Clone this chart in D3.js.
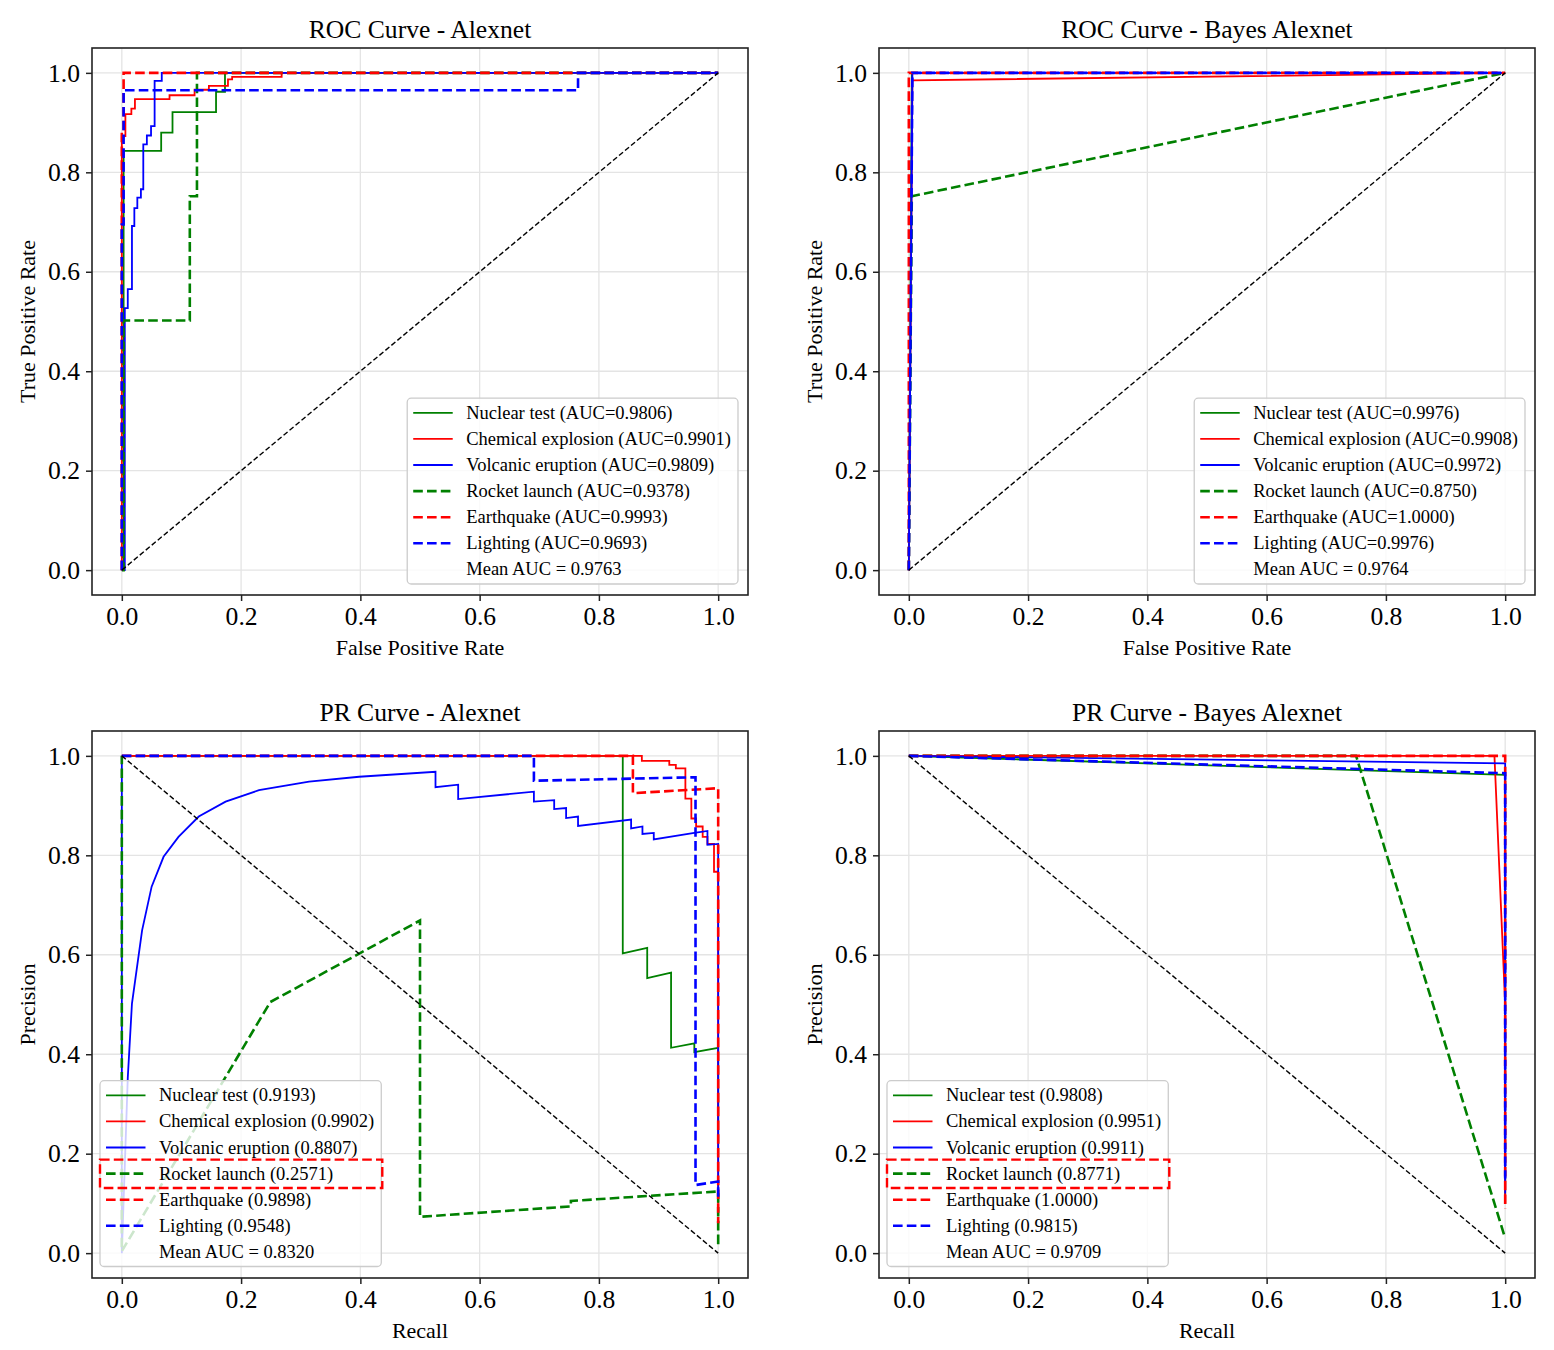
<!DOCTYPE html>
<html>
<head>
<meta charset="utf-8">
<script src="https://cdn.jsdelivr.net/npm/d3@7"></script>
<style>
  body { margin: 0; background: #fff; }
  svg { display: block; }
  text { font-family: "Liberation Serif", "Times New Roman", serif; fill: #000; }
</style>
</head>
<body>
<svg id="canvas" width="1554" height="1350"></svg>
<script>
// class names, shared by all four panels
let classNames = ["Nuclear test", "Chemical explosion", "Volcanic eruption", "Rocket launch", "Earthquake", "Lighting"];
let tickValues = [0, 0.2, 0.4, 0.6, 0.8, 1.0];

// AUC values shown in the legends
let rocAlexAuc = [0.9806, 0.9901, 0.9809, 0.9378, 0.9993, 0.9693];
let rocBayesAuc = [0.9976, 0.9908, 0.9972, 0.8750, 1.0000, 0.9976];
let prAlexAuc = [0.9193, 0.9902, 0.8807, 0.2571, 0.9898, 0.9548];
let prBayesAuc = [0.9808, 0.9951, 0.9911, 0.8771, 1.0000, 0.9815];
let meanAuc = [0.9763, 0.9764, 0.8320, 0.9709];

// reference diagonals
let rocDiagonal = [[0, 0], [1, 1]];
let prDiagonal = [[0, 1], [1, 0]];

// ROC - Alexnet  [fpr, tpr]
let rocAlexNuclear = [[0,0],[0.003,0],[0.003,0.843],[0.066,0.843],[0.066,0.88],[0.085,0.88],[0.085,0.921],[0.158,0.921],[0.158,0.962],[0.173,0.962],[0.173,1],[1,1]];
let rocAlexChemical = [[0,0],[0,0.873],[0.006,0.873],[0.006,0.917],[0.016,0.917],[0.016,0.928],[0.022,0.928],[0.022,0.947],[0.08,0.947],[0.08,0.955],[0.122,0.955],[0.122,0.966],[0.146,0.966],[0.146,0.974],[0.178,0.974],[0.178,0.987],[0.185,0.987],[0.185,0.992],[0.268,0.992],[0.268,1],[1,1]];
let rocAlexVolcanic = [[0,0],[0.005,0],[0.005,0.527],[0.01,0.527],[0.01,0.565],[0.017,0.565],[0.017,0.692],[0.021,0.692],[0.021,0.728],[0.026,0.728],[0.026,0.749],[0.032,0.749],[0.032,0.766],[0.036,0.766],[0.036,0.856],[0.042,0.856],[0.042,0.874],[0.049,0.874],[0.049,0.893],[0.055,0.893],[0.055,0.984],[0.067,0.984],[0.067,1],[1,1]];
let rocAlexRocket = [[0,0],[0.003,0],[0.003,0.502],[0.114,0.502],[0.114,0.752],[0.126,0.752],[0.126,1],[1,1]];
let rocAlexEarthquake = [[0,0],[0,0.88],[0.003,0.88],[0.003,1],[1,1]];
let rocAlexLighting = [[0,0],[0,0.695],[0.003,0.695],[0.003,0.965],[0.765,0.965],[0.765,1],[1,1]];

// ROC - Bayes Alexnet
let rocBayesNuclear = [[0,0],[0.005,1],[1,1]];
let rocBayesChemical = [[0,0],[0.006,0.985],[1,1]];
let rocBayesVolcanic = [[0,0],[0.006,1],[1,1]];
let rocBayesRocket = [[0,0],[0.005,0.752],[1,1]];
let rocBayesEarthquake = [[0,0],[0,1],[1,1]];
let rocBayesLighting = [[0,0],[0.006,1],[1,1]];

// PR - Alexnet  [recall, precision]
let prAlexNuclear = [[0,1],[0.84,1],[0.84,0.603],[0.881,0.614],[0.881,0.553],[0.921,0.564],[0.921,0.413],[0.96,0.422],[0.96,0.404],[1,0.413],[1,0.22]];
let prAlexChemical = [[0,1],[0.872,1],[0.872,0.99],[0.918,0.99],[0.918,0.982],[0.929,0.982],[0.929,0.975],[0.945,0.975],[0.945,0.914],[0.955,0.914],[0.955,0.874],[0.963,0.874],[0.963,0.858],[0.974,0.858],[0.974,0.837],[0.982,0.837],[0.982,0.823],[0.993,0.823],[0.993,0.767],[1,0.767],[1,0.1]];
let prAlexVolcanic = [[0,1],[0,0],[0.01,0.353],[0.017,0.502],[0.034,0.649],[0.05,0.737],[0.07,0.797],[0.095,0.837],[0.129,0.878],[0.174,0.908],[0.23,0.931],[0.314,0.948],[0.398,0.958],[0.526,0.968],[0.526,0.937],[0.564,0.942],[0.564,0.913],[0.691,0.928],[0.691,0.908],[0.725,0.911],[0.725,0.893],[0.745,0.895],[0.745,0.875],[0.765,0.878],[0.765,0.859],[0.854,0.872],[0.854,0.854],[0.873,0.858],[0.873,0.843],[0.892,0.845],[0.892,0.832],[0.96,0.845],[0.982,0.849],[0.982,0.821],[1,0.823],[1,0.13]];
let prAlexRocket = [[1,0.018],[1,0.124],[0.753,0.105],[0.753,0.094],[0.5,0.073],[0.5,0.669],[0.249,0.505],[0,0.004],[0,1]];
let prAlexEarthquake = [[0,1],[0.857,1],[0.857,0.925],[1,0.935],[1,0.06]];
let prAlexLighting = [[0,1],[0.691,1],[0.691,0.95],[0.962,0.957],[0.962,0.137],[1,0.144],[1,0.112]];

// PR - Bayes Alexnet
let prBayesNuclear = [[0,1],[1,0.962],[1,0.1]];
let prBayesChemical = [[0,1],[0.982,1],[1,0.5],[1,0.1]];
let prBayesVolcanic = [[0,1],[1,0.985],[1,0.12]];
let prBayesRocket = [[0,1],[0.75,1],[1,0.03]];
let prBayesEarthquake = [[0,1],[1,1],[1,0.09]];
let prBayesLighting = [[0,1],[1,0.965],[1,0.15]];

// line styles per class
let lineColors = ["green", "red", "blue", "green", "red", "blue"];
let lineDashed = [false, false, false, true, true, true];

let panels = [
    { title: "ROC Curve - Alexnet", xLabel: "False Positive Rate", yLabel: "True Positive Rate",
      left: 92, right: 748, top: 48, bottom: 595, diag: rocDiagonal, auc: rocAlexAuc, mean: meanAuc[0], roc: true,
      series: [rocAlexNuclear, rocAlexChemical, rocAlexVolcanic, rocAlexRocket, rocAlexEarthquake, rocAlexLighting] },
    { title: "ROC Curve - Bayes Alexnet", xLabel: "False Positive Rate", yLabel: "True Positive Rate",
      left: 879, right: 1535, top: 48, bottom: 595, diag: rocDiagonal, auc: rocBayesAuc, mean: meanAuc[1], roc: true,
      series: [rocBayesNuclear, rocBayesChemical, rocBayesVolcanic, rocBayesRocket, rocBayesEarthquake, rocBayesLighting] },
    { title: "PR Curve - Alexnet", xLabel: "Recall", yLabel: "Precision",
      left: 92, right: 748, top: 731, bottom: 1278, diag: prDiagonal, auc: prAlexAuc, mean: meanAuc[2], roc: false,
      series: [prAlexNuclear, prAlexChemical, prAlexVolcanic, prAlexRocket, prAlexEarthquake, prAlexLighting] },
    { title: "PR Curve - Bayes Alexnet", xLabel: "Recall", yLabel: "Precision",
      left: 879, right: 1535, top: 731, bottom: 1278, diag: prDiagonal, auc: prBayesAuc, mean: meanAuc[3], roc: false,
      series: [prBayesNuclear, prBayesChemical, prBayesVolcanic, prBayesRocket, prBayesEarthquake, prBayesLighting] }
];

let canvas = d3.select("#canvas");
let fmt = d3.format(".4f");

let drawPanel = (p, idx) => {
    let x = d3.scaleLinear().domain([-0.05, 1.05]).range([p.left, p.right]);
    let y = d3.scaleLinear().domain([-0.05, 1.05]).range([p.bottom, p.top]);
    let g = canvas.append("g");

    let clipId = "clip" + idx;
    g.append("clipPath").attr("id", clipId)
        .append("rect")
        .attr("x", p.left).attr("y", p.top)
        .attr("width", p.right - p.left).attr("height", p.bottom - p.top);

    // grid
    let grid = g.append("g").attr("stroke", "#e4e4e4").attr("stroke-width", 1.3);
    grid.selectAll(".gx").data(tickValues).enter().append("line")
        .attr("x1", (d) => x(d)).attr("x2", (d) => x(d))
        .attr("y1", p.top).attr("y2", p.bottom);
    grid.selectAll(".gy").data(tickValues).enter().append("line")
        .attr("y1", (d) => y(d)).attr("y2", (d) => y(d))
        .attr("x1", p.left).attr("x2", p.right);

    // curves
    let line = d3.line().x((d) => x(d[0])).y((d) => y(d[1]));
    let plot = g.append("g").attr("clip-path", "url(#" + clipId + ")");
    p.series.forEach((s, i) => {
        plot.append("path")
            .attr("d", line(s))
            .attr("fill", "none")
            .attr("stroke", lineColors[i])
            .attr("stroke-width", lineDashed[i] ? 2.6 : 1.8)
            .attr("stroke-dasharray", lineDashed[i] ? "9.6,4.2" : null)
            .attr("stroke-linejoin", "miter");
    });
    plot.append("path")
        .attr("d", line(p.diag))
        .attr("fill", "none")
        .attr("stroke", "#000")
        .attr("stroke-width", 1.4)
        .attr("stroke-dasharray", "5.2,2.6");

    // axes
    let xAxis = d3.axisBottom(x).tickValues(tickValues).tickFormat(d3.format(".1f"))
        .tickSize(6).tickSizeOuter(0).tickPadding(6);
    let yAxis = d3.axisLeft(y).tickValues(tickValues).tickFormat(d3.format(".1f"))
        .tickSize(6).tickSizeOuter(0).tickPadding(6);
    let gx = g.append("g").attr("transform", "translate(0," + p.bottom + ")").call(xAxis);
    let gy = g.append("g").attr("transform", "translate(" + p.left + ",0)").call(yAxis);
    [gx, gy].forEach((a) => {
        a.select(".domain").remove();
        a.selectAll(".tick line").attr("stroke", "#222").attr("stroke-width", 1.5);
        a.selectAll(".tick text").attr("font-size", "25.6px")
            .attr("font-family", "Liberation Serif, serif").attr("fill", "#000");
    });

    // frame
    g.append("rect")
        .attr("x", p.left).attr("y", p.top)
        .attr("width", p.right - p.left).attr("height", p.bottom - p.top)
        .attr("fill", "none").attr("stroke", "#222").attr("stroke-width", 1.6);

    // title and labels
    let cx = (p.left + p.right) / 2;
    g.append("text").attr("x", cx).attr("y", p.top - 10)
        .attr("text-anchor", "middle").attr("font-size", "25.6px").text(p.title);
    g.append("text").attr("x", cx).attr("y", p.bottom + 60)
        .attr("text-anchor", "middle").attr("font-size", "22px").text(p.xLabel);
    g.append("text")
        .attr("transform", "translate(" + (p.left - 57) + "," + ((p.top + p.bottom) / 2) + ") rotate(-90)")
        .attr("text-anchor", "middle").attr("font-size", "22px").text(p.yLabel);

    // legend
    let labels = classNames.map((c, i) => p.roc ? c + " (AUC=" + fmt(p.auc[i]) + ")" : c + " (" + fmt(p.auc[i]) + ")");
    labels.push("Mean AUC = " + fmt(p.mean));
    let rowH = 26.1;
    let leg = g.append("g");
    let box = leg.append("rect")
        .attr("fill", "#fff").attr("fill-opacity", 0.8)
        .attr("stroke", "#cccccc").attr("stroke-width", 1.3)
        .attr("rx", 4).attr("ry", 4);
    let texts = leg.selectAll("text.lab").data(labels).enter().append("text")
        .attr("class", "lab")
        .attr("x", 59).attr("y", (d, i) => 14.6 + i * rowH)
        .attr("dy", "0.33em")
        .attr("font-size", "18.5px")
        .text((d) => d);
    let maxW = 0;
    texts.each(function () { maxW = Math.max(maxW, this.getComputedTextLength()); });
    let boxW = 59 + maxW + 7;
    let boxH = 14.6 * 2 + 6 * rowH;
    box.attr("width", boxW).attr("height", boxH);
    classNames.forEach((c, i) => {
        leg.append("line")
            .attr("x1", 6).attr("x2", 45.5)
            .attr("y1", 14.6 + i * rowH).attr("y2", 14.6 + i * rowH)
            .attr("stroke", lineColors[i])
            .attr("stroke-width", lineDashed[i] ? 2.6 : 1.8)
            .attr("stroke-dasharray", lineDashed[i] ? "9.6,4.2" : null);
    });
    let lx, ly;
    if (p.roc) {
        lx = p.right - 10 - boxW;
        ly = p.bottom - 11 - boxH;
    } else {
        lx = p.left + 8;
        ly = p.bottom - 11.5 - boxH;
        // highlight around the Rocket launch entry
        leg.append("rect")
            .attr("x", 0).attr("y", 14.6 + 3 * rowH - 14)
            .attr("width", boxW + 1).attr("height", 28.4)
            .attr("fill", "none").attr("stroke", "red")
            .attr("stroke-width", 2.4).attr("stroke-dasharray", "9.6,4.2");
    }
    leg.attr("transform", "translate(" + lx + "," + ly + ")");
};

panels.forEach((p, i) => drawPanel(p, i));
</script>
</body>
</html>
